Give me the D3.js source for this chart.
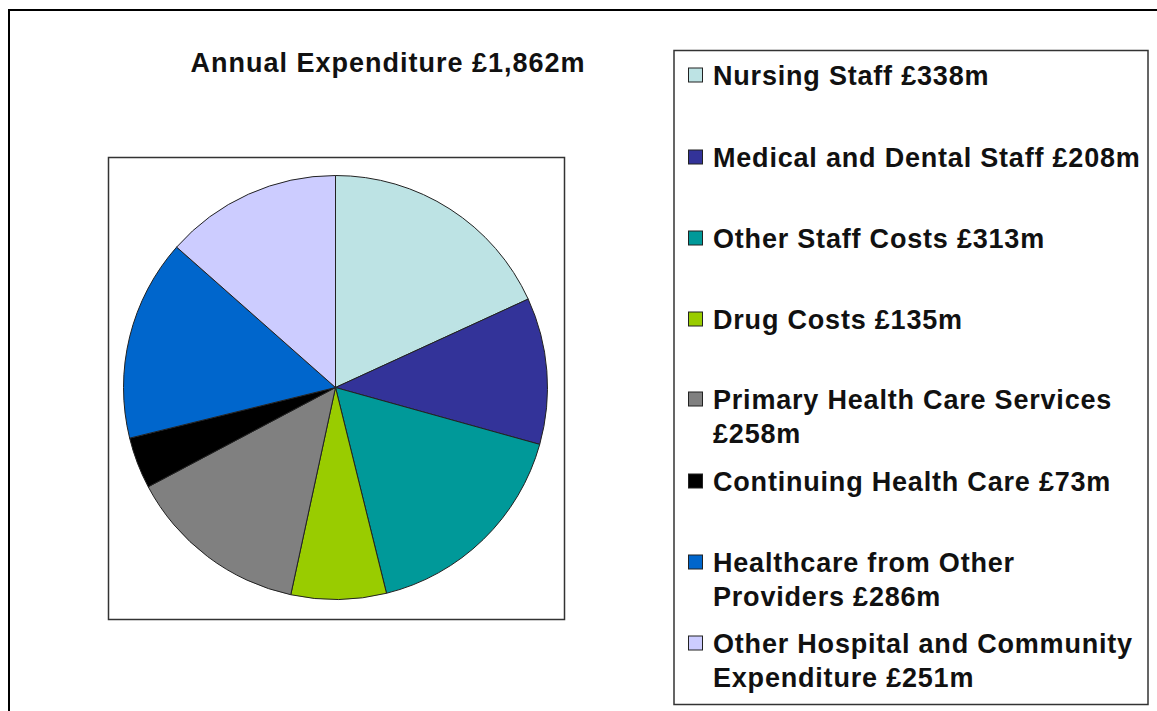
<!DOCTYPE html>
<html>
<head>
<meta charset="utf-8">
<script src="https://cdn.jsdelivr.net/npm/d3@7"></script>
<style>
  body { margin: 0; background: #fff; }
  text { font-family: "Liberation Sans", Arial, sans-serif; font-weight: bold; fill: #111; }
</style>
</head>
<body>
<script>
const width = 1157;
const height = 711;

// chart data
const categories = [
  "Nursing Staff",
  "Medical and Dental Staff",
  "Other Staff Costs",
  "Drug Costs",
  "Primary Health Care Services",
  "Continuing Health Care",
  "Healthcare from Other Providers",
  "Other Hospital and Community Expenditure"
];
const values = [338, 208, 313, 135, 258, 73, 286, 251];
const colors = ["#bde3e4", "#333399", "#009999", "#99cc00", "#808080", "#000000", "#0066cc", "#ccccff"];
// legend lines as they wrap in the original
const legendLines = [
  ["Nursing Staff £338m"],
  ["Medical and Dental Staff £208m"],
  ["Other Staff Costs £313m"],
  ["Drug Costs £135m"],
  ["Primary Health Care Services", "£258m"],
  ["Continuing Health Care £73m"],
  ["Healthcare from Other", "Providers £286m"],
  ["Other Hospital and Community", "Expenditure £251m"]
];
const legendY = [75, 157, 238, 319, 399, 481, 562, 643];
const title = "Annual Expenditure £1,862m";

const data = categories.map((c, i) => ({ name: c, value: values[i], color: colors[i] }));

const svg = d3.select("body").append("svg")
  .attr("width", width)
  .attr("height", height);

// outer chart frame (top and left edges visible)
svg.append("path")
  .attr("d", "M9,711 V10 H1157")
  .attr("fill", "none")
  .attr("stroke", "#000")
  .attr("stroke-width", 2);

// plot area
svg.append("rect")
  .attr("x", 108.5).attr("y", 157.5)
  .attr("width", 456).attr("height", 462)
  .attr("fill", "#fff")
  .attr("stroke", "#333")
  .attr("stroke-width", 1.5);

svg.append("text")
  .attr("x", 388).attr("y", 72)
  .attr("text-anchor", "middle")
  .style("font-size", "27px")
  .style("letter-spacing", "1px")
  .text(title);

const cx = 335.5, cy = 387.5, r = 212;
const pie = d3.pie().sort(null).value(d => d.value);
const arc = d3.arc().innerRadius(0).outerRadius(r);

svg.append("g")
  .attr("transform", `translate(${cx},${cy})`)
  .selectAll("path")
  .data(pie(data))
  .join("path")
  .attr("d", arc)
  .attr("fill", d => d.data.color)
  .attr("stroke", "#222")
  .attr("stroke-width", 1);

// legend
svg.append("rect")
  .attr("x", 674).attr("y", 50.5)
  .attr("width", 474).attr("height", 654)
  .attr("fill", "#fff")
  .attr("stroke", "#333")
  .attr("stroke-width", 1.5);

const items = svg.append("g").selectAll("g")
  .data(data)
  .join("g")
  .attr("transform", (d, i) => `translate(0,${legendY[i]})`);

items.append("rect")
  .attr("x", 688.5).attr("y", -7)
  .attr("width", 14).attr("height", 14)
  .attr("fill", d => d.color)
  .attr("stroke", "#222")
  .attr("stroke-width", 1);

items.append("text")
  .style("font-size", "27px")
  .style("letter-spacing", "0.8px")
  .selectAll("tspan")
  .data((d, i) => legendLines[i])
  .join("tspan")
  .attr("x", 713)
  .attr("y", (d, j) => 10 + j * 34)
  .text(d => d);
</script>
</body>
</html>
